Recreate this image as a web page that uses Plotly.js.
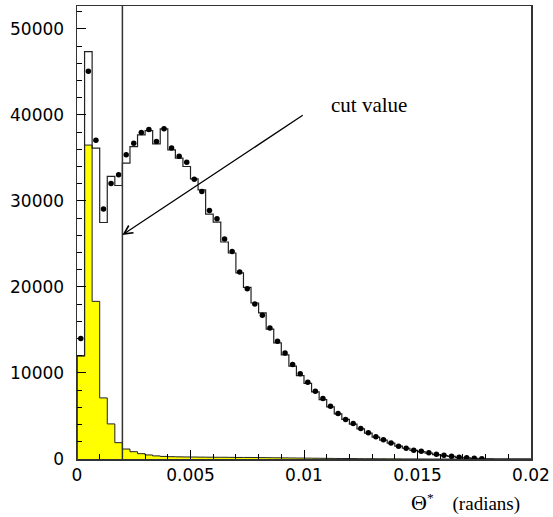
<!DOCTYPE html>
<html>
<head>
<meta charset="utf-8">
<script src="https://cdn.plot.ly/plotly-3.0.1.min.js"></script>
<style>html,body{margin:0;padding:0;background:#fff;}#plot{width:553px;height:517px;}</style>
</head>
<body>
<div id="plot"></div>
<script>
// Histogram binning: 60 bins from 0 to 0.02 radians
const xMin = 0;
const xMax = 0.02;
const nBins = 60;

// Data (points with errors), per bin
const dataCounts = [14000, 45080, 37070, 29060, 32030, 33040, 35370, 36720, 37960, 38300,
  36910, 38390, 36150, 35200, 34500, 32540, 31090, 28900, 27930, 25570,
  24130, 21740, 19800, 18030, 16700, 15240, 13680, 12330, 10980, 9900,
  8920, 7870, 7030, 6130, 5280, 4590, 4120, 3540, 3040, 2580,
  2230, 1850, 1490, 1250, 1020, 900, 720, 560, 440, 330,
  210, 140, 80, 40];

// Total Monte Carlo (open histogram), per bin
const mcTotal = [12000, 47360, 36140, 27500, 32850, 31800, 34400, 36330, 37690, 38190,
  36640, 38390, 35950, 34980, 34010, 32580, 31300, 28480, 27550, 25230,
  23950, 21630, 19950, 18140, 16980, 15100, 13500, 12100, 10800, 9700,
  8800, 7800, 6900, 6050, 5250, 4600, 4050, 3500, 3000, 2550,
  2200, 1850, 1500, 1250, 1000, 850, 680, 520, 400, 300,
  200, 130, 70, 30, 10, 0, 0, 0, 0, 0];

// Background Monte Carlo (yellow histogram), per bin
const mcBackground = [12000, 36500, 18330, 7100, 4080, 1900, 1160, 850, 620, 470,
  360, 300, 270, 250, 240, 230, 220, 210, 200, 200,
  190, 180, 180, 170, 160, 150, 140, 130, 120, 110,
  100, 90, 80, 70, 60, 55, 50, 40, 35, 30,
  25, 20, 15, 10, 10, 5, 0, 0, 0, 0,
  0, 0, 0, 0, 0, 0, 0, 0, 0, 0];

const cutValue = 0.002;
const xTickVals = [0, 0.005, 0.01, 0.015, 0.02];
const yTickVals = [0, 10000, 20000, 30000, 40000, 50000];

// ---- build step arrays ----
const binW = (xMax - xMin) / nBins;
const edges = [];
for (let i = 0; i <= nBins; i++) edges.push(xMin + i * binW);
function stepXY(vals) {
  const xs = [edges[0]], ys = [0];
  for (let i = 0; i < vals.length; i++) { xs.push(edges[i]); ys.push(vals[i]); }
  xs.push(edges[vals.length]); ys.push(vals[vals.length - 1]);
  xs.push(edges[vals.length]); ys.push(0);
  return {x: xs, y: ys};
}
const bg = stepXY(mcBackground);
const tot = stepXY(mcTotal);
const centers = dataCounts.map((_, i) => edges[i] + binW / 2);

const lineCol = '#222';

const traces = [
  {type: 'scatter', mode: 'lines', x: bg.x, y: bg.y, line: {shape: 'hv', color: lineCol, width: 1}, fill: 'tozeroy', fillcolor: '#ffff00', hoverinfo: 'skip', showlegend: false},
  {type: 'scatter', mode: 'lines', x: tot.x, y: tot.y, line: {shape: 'hv', color: lineCol, width: 1.2}, hoverinfo: 'skip', showlegend: false},
  {type: 'scatter', mode: 'markers', x: centers, y: dataCounts,
   marker: {color: '#000', size: 5.5, symbol: 'circle'},
   error_y: {type: 'data', array: dataCounts.map(v => Math.sqrt(v)), color: '#000', thickness: 1, width: 0},
   error_x: {type: 'constant', value: binW * 0.25, color: '#000', thickness: 1, width: 0},
   showlegend: false}
];

const tickFont = {family: 'DejaVu Sans', size: 17, color: '#000'};
const serif = 'Liberation Serif';

const layout = {
  width: 553, height: 517,
  margin: {l: 77, r: 22, t: 6, b: 58, pad: 0},
  paper_bgcolor: '#fff', plot_bgcolor: '#fff',
  showlegend: false,
  xaxis: {
    range: [xMin, xMax], tickvals: xTickVals, ticktext: ['0', '0.005', '0.01', '0.015', '0.02'],
    ticks: 'inside', ticklen: 9, tickwidth: 1, tickcolor: '#000',
    minor: {dtick: 0.001, tick0: 0, ticks: 'inside', ticklen: 5, tickwidth: 1, tickcolor: '#000', showgrid: false},
    showline: true, linecolor: '#333', linewidth: 1.5, mirror: true,
    showgrid: false, zeroline: false, tickfont: tickFont
  },
  yaxis: {
    range: [0, 52670], tickvals: yTickVals, tickformat: 'd',
    ticks: 'inside', ticklen: 9, tickwidth: 1, tickcolor: '#000',
    minor: {dtick: 2000, tick0: 0, ticks: 'inside', ticklen: 5, tickwidth: 1, tickcolor: '#000', showgrid: false},
    showline: true, linecolor: '#333', linewidth: 1.5, mirror: true,
    showgrid: false, zeroline: false, tickfont: tickFont, ticklabelstandoff: 8
  },
  shapes: [
    {type: 'line', xref: 'x', yref: 'paper', x0: cutValue, x1: cutValue, y0: 0, y1: 1, line: {color: '#333', width: 1.5}}
  ],
  annotations: [
    {xref: 'x', yref: 'y', x: cutValue, y: 26050, axref: 'x', ayref: 'y', ax: 0.01001, ay: 40080,
     showarrow: true, arrowhead: 5, arrowsize: 1.3, arrowwidth: 1.3, arrowcolor: '#000', text: ''},
    {xref: 'x', yref: 'y', x: 0.0111, y: 41200, text: 'cut value', showarrow: false,
     xanchor: 'left', yanchor: 'middle', font: {family: serif, size: 21, color: '#000'}},
    {xref: 'paper', yref: 'paper', x: 0.98, y: -0.096, xanchor: 'right', yanchor: 'middle', showarrow: false,
     text: '<span style="font-size:22px">Θ</span><sup>*</sup>&nbsp;&nbsp;&nbsp;&nbsp;(radians)', font: {family: serif, size: 19, color: '#000'}}
  ]
};

Plotly.newPlot('plot', traces, layout, {staticPlot: true, displayModeBar: false});
</script>
</body>
</html>
